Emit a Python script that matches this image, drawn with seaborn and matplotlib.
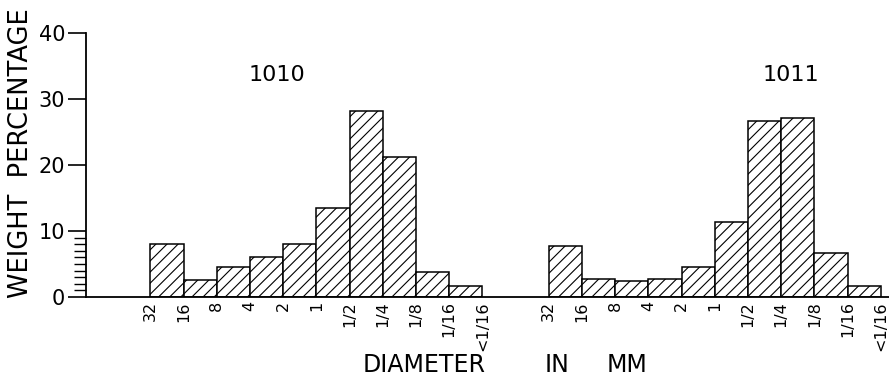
import numpy as np
import pandas as pd
import matplotlib
matplotlib.use("Agg")
import matplotlib.pyplot as plt
import seaborn as sns

# grain size classes (mm), written at the bar edges
sizes = ["32", "16", "8", "4", "2", "1", "1/2", "1/4", "1/8", "1/16", "<1/16"]
samples = ["1010", "1011"]
pct_1010 = [8.0, 2.6, 4.6, 6.1, 8.0, 13.5, 28.2, 21.2, 3.8, 1.7]
pct_1011 = [7.8, 2.8, 2.5, 2.8, 4.6, 11.4, 26.6, 27.1, 6.6, 1.6]

gap = 12  # second sample starts two class-widths after the first ends
rows = []
for k, vals in enumerate([pct_1010, pct_1011]):
    for i, v in enumerate(vals):
        rows.append({"sample": samples[k], "pos": k * gap + i + 0.5, "pct": v})
df = pd.DataFrame(rows)

sns.set_style("white")
plt.rcParams["font.family"] = ["DejaVu Sans"]
plt.rcParams["text.color"] = "black"
plt.rcParams["xtick.color"] = "black"
plt.rcParams["ytick.color"] = "black"
plt.rcParams["hatch.linewidth"] = 0.8
plt.rcParams["hatch.color"] = "black"

fig = plt.figure(figsize=(8.89, 3.8), dpi=100)
ax = fig.add_axes([86 / 889, 83 / 380, 1 - 86 / 889, 264 / 380])

sns.barplot(data=df, x="pos", y="pct", native_scale=True, width=1,
            color="white", saturation=1, edgecolor="black", linewidth=1.1,
            hatch="///", errorbar=None, ax=ax)

ax.set_xlim(-1.94, 22.25)
ax.set_ylim(0, 40)

edges = list(range(0, 11)) + list(range(gap, gap + 11))
ax.set_xticks(edges)
ax.set_xticklabels(sizes * 2, rotation=90, fontsize=11.5, va="top")
ax.tick_params(axis="x", length=0, pad=3)

ax.set_yticks([0, 10, 20, 30, 40])
ax.set_yticks(range(1, 10), minor=True)
ax.tick_params(axis="y", which="major", length=13, width=1.2, direction="out",
               labelsize=15, pad=2, left=True)
ax.tick_params(axis="y", which="minor", length=9, width=1, direction="out", left=True)

for s in ["top", "right"]:
    ax.spines[s].set_visible(False)
for s in ["left", "bottom"]:
    ax.spines[s].set_linewidth(1.3)
    ax.spines[s].set_color("black")

ax.set_xlabel("")
ax.set_ylabel("")

ax.text(3.8, 33.6, samples[0], fontsize=16, ha="center", va="center")
ax.text(19.3, 33.6, samples[1], fontsize=16, ha="center", va="center")

fig.text(21 / 889, 1 - 153 / 380, "WEIGHT  PERCENTAGE", rotation=90,
         fontsize=18.5, ha="center", va="center")
fig.text(424 / 889, 1 - 365 / 380, "DIAMETER", fontsize=17, ha="center", va="center")
fig.text(557 / 889, 1 - 365 / 380, "IN", fontsize=17, ha="center", va="center")
fig.text(627 / 889, 1 - 365 / 380, "MM", fontsize=17, ha="center", va="center")

fig.savefig("out.png", dpi=100)
